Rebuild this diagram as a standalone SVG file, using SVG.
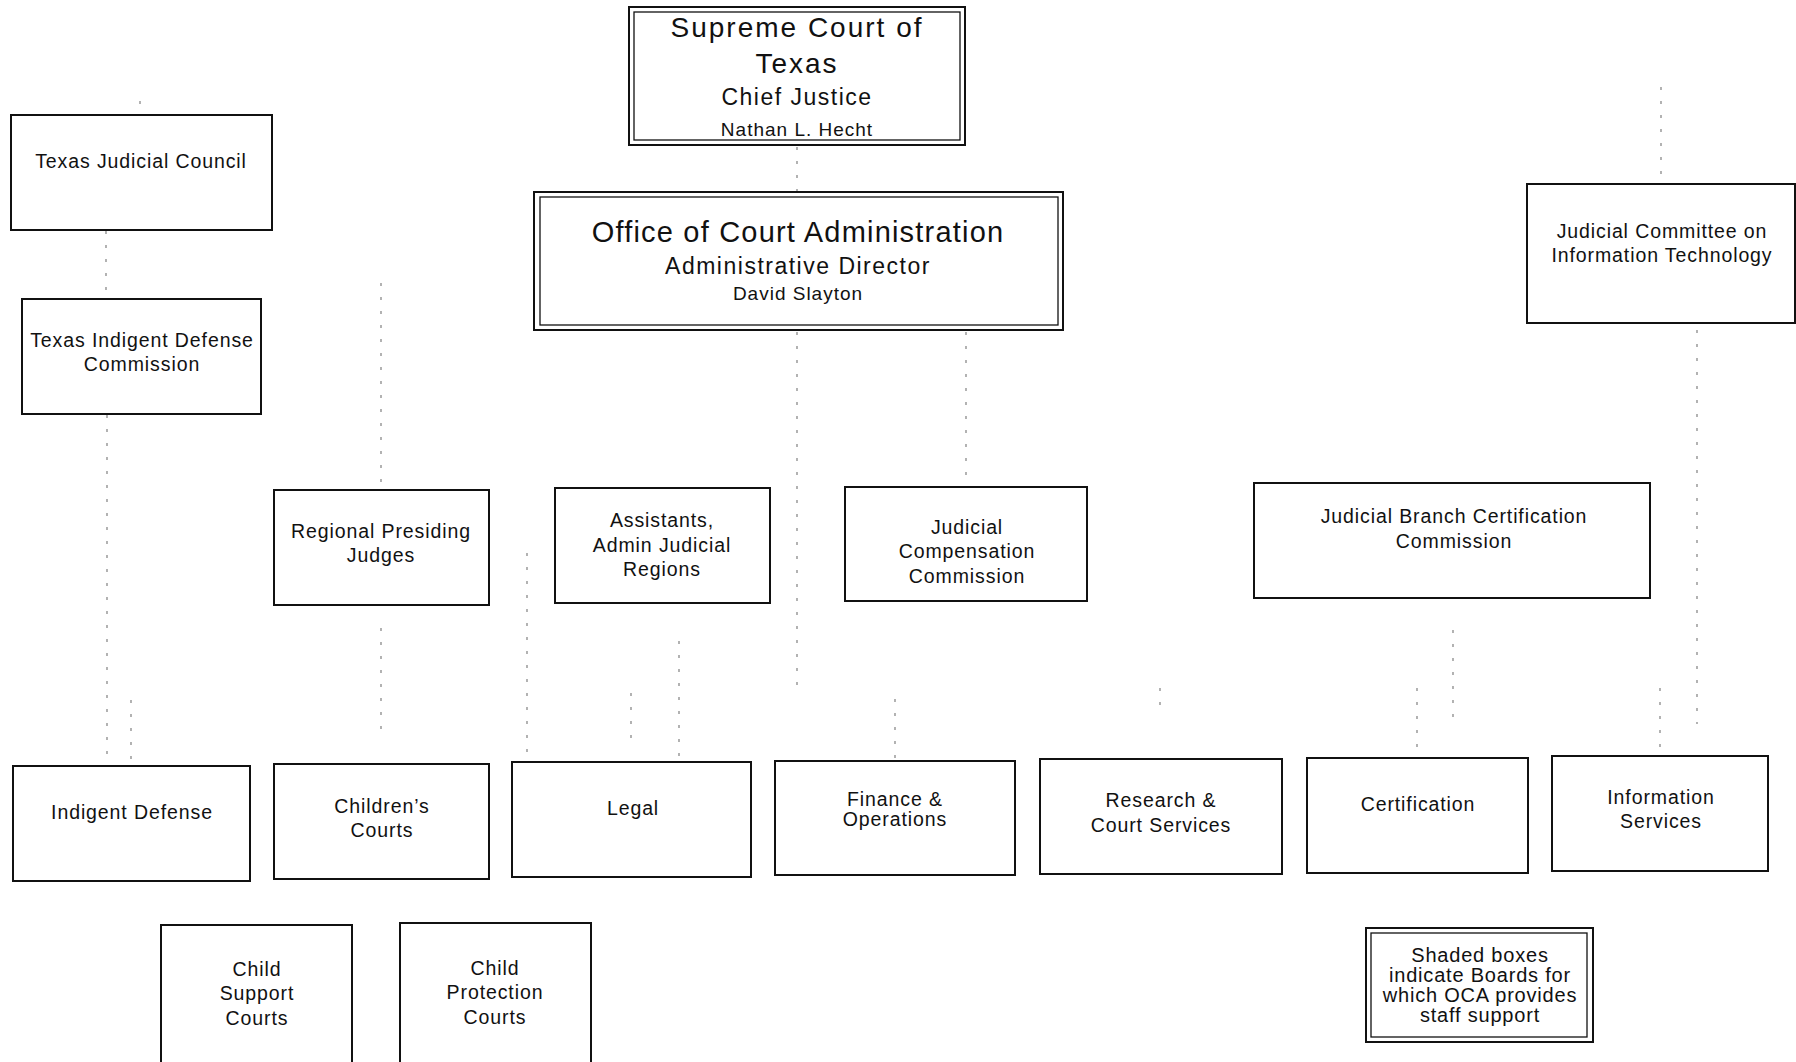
<svg xmlns="http://www.w3.org/2000/svg" width="1796" height="1062" viewBox="0 0 1796 1062">
<style>
  .bx{fill:#fff;stroke:#111;stroke-width:2}
  .in{fill:none;stroke:#111;stroke-width:1.3}
  text{font-family:"Liberation Sans",Arial,sans-serif;fill:#111;text-anchor:middle}
  .t{font-size:19.5px;letter-spacing:0.9px}
  .lg{font-size:20px;letter-spacing:0.8px}
  .cn{stroke:#8a8a8a;stroke-width:1.3;stroke-dasharray:3 11;fill:none}
</style>
<rect width="1796" height="1062" fill="#fff"/>
<g id="connectors">
  <line class="cn" x1="140" y1="101" x2="140" y2="114"/>
  <line class="cn" x1="797" y1="147" x2="797" y2="191"/>
  <line class="cn" x1="106" y1="231" x2="106" y2="298"/>
  <line class="cn" x1="107" y1="415" x2="107" y2="766"/>
  <line class="cn" x1="131" y1="700" x2="131" y2="766"/>
  <line class="cn" x1="381" y1="283" x2="381" y2="490"/>
  <line class="cn" x1="381" y1="628" x2="381" y2="733"/>
  <line class="cn" x1="527" y1="553" x2="527" y2="762"/>
  <line class="cn" x1="679" y1="641" x2="679" y2="762"/>
  <line class="cn" x1="631" y1="693" x2="631" y2="745"/>
  <line class="cn" x1="797" y1="332" x2="797" y2="691"/>
  <line class="cn" x1="966" y1="332" x2="966" y2="487"/>
  <line class="cn" x1="895" y1="699" x2="895" y2="761"/>
  <line class="cn" x1="1160" y1="688" x2="1160" y2="706"/>
  <line class="cn" x1="1417" y1="688" x2="1417" y2="757"/>
  <line class="cn" x1="1453" y1="630" x2="1453" y2="725"/>
  <line class="cn" x1="1660" y1="688" x2="1660" y2="756"/>
  <line class="cn" x1="1697" y1="330" x2="1697" y2="724"/>
  <line class="cn" x1="1661" y1="87" x2="1661" y2="184"/>
</g>
<g id="supreme-court">
  <rect class="bx" x="629" y="7" width="336" height="138"/>
  <rect class="in" x="634" y="12" width="326" height="128"/>
  <text x="797" y="37" style="font-size:28px;letter-spacing:2px">Supreme Court of</text>
  <text x="797" y="73" style="font-size:28px;letter-spacing:2px">Texas</text>
  <text x="797" y="105" style="font-size:23px;letter-spacing:1.5px">Chief Justice</text>
  <text x="797" y="136" style="font-size:19px;letter-spacing:1px">Nathan L. Hecht</text>
</g>
<g id="oca">
  <rect class="bx" x="534" y="192" width="529" height="138"/>
  <rect class="in" x="540" y="197" width="518" height="128"/>
  <text x="798" y="242" style="font-size:29px;letter-spacing:1.2px">Office of Court Administration</text>
  <text x="798" y="274" style="font-size:23px;letter-spacing:1.5px">Administrative Director</text>
  <text x="798" y="300" style="font-size:19px;letter-spacing:1px">David Slayton</text>
</g>
<g id="texas-judicial-council">
  <rect class="bx" x="11" y="115" width="261" height="115"/>
  <text class="t" x="141" y="168">Texas Judicial Council</text>
</g>
<g id="tidc">
  <rect class="bx" x="22" y="299" width="239" height="115"/>
  <text class="t" x="142" y="347">Texas Indigent Defense</text>
  <text class="t" x="142" y="371">Commission</text>
</g>
<g id="jcit">
  <rect class="bx" x="1527" y="184" width="268" height="139"/>
  <text class="t" x="1662" y="238">Judicial Committee on</text>
  <text class="t" x="1662" y="262">Information Technology</text>
</g>
<g id="regional-presiding-judges">
  <rect class="bx" x="274" y="490" width="215" height="115"/>
  <text class="t" x="381" y="538">Regional Presiding</text>
  <text class="t" x="381" y="562">Judges</text>
</g>
<g id="assistants">
  <rect class="bx" x="555" y="488" width="215" height="115"/>
  <text class="t" x="662" y="527">Assistants,</text>
  <text class="t" x="662" y="552">Admin Judicial</text>
  <text class="t" x="662" y="576">Regions</text>
</g>
<g id="judicial-compensation-commission">
  <rect class="bx" x="845" y="487" width="242" height="114"/>
  <text class="t" x="967" y="534">Judicial</text>
  <text class="t" x="967" y="558">Compensation</text>
  <text class="t" x="967" y="583">Commission</text>
</g>
<g id="jbcc">
  <rect class="bx" x="1254" y="483" width="396" height="115"/>
  <text class="t" x="1454" y="523">Judicial Branch Certification</text>
  <text class="t" x="1454" y="548">Commission</text>
</g>
<g id="indigent-defense">
  <rect class="bx" x="13" y="766" width="237" height="115"/>
  <text class="t" x="132" y="819">Indigent Defense</text>
</g>
<g id="childrens-courts">
  <rect class="bx" x="274" y="764" width="215" height="115"/>
  <text class="t" x="382" y="813">Children’s</text>
  <text class="t" x="382" y="837">Courts</text>
</g>
<g id="legal">
  <rect class="bx" x="512" y="762" width="239" height="115"/>
  <text class="t" x="633" y="815">Legal</text>
</g>
<g id="finance-operations">
  <rect class="bx" x="775" y="761" width="240" height="114"/>
  <text class="t" x="895" y="806">Finance &amp;</text>
  <text class="t" x="895" y="826">Operations</text>
</g>
<g id="research-court-services">
  <rect class="bx" x="1040" y="759" width="242" height="115"/>
  <text class="t" x="1161" y="807">Research &amp;</text>
  <text class="t" x="1161" y="832">Court Services</text>
</g>
<g id="certification">
  <rect class="bx" x="1307" y="758" width="221" height="115"/>
  <text class="t" x="1418" y="811">Certification</text>
</g>
<g id="information-services">
  <rect class="bx" x="1552" y="756" width="216" height="115"/>
  <text class="t" x="1661" y="804">Information</text>
  <text class="t" x="1661" y="828">Services</text>
</g>
<g id="child-support-courts">
  <rect class="bx" x="161" y="925" width="191" height="150"/>
  <text class="t" x="257" y="976">Child</text>
  <text class="t" x="257" y="1000">Support</text>
  <text class="t" x="257" y="1025">Courts</text>
</g>
<g id="child-protection-courts">
  <rect class="bx" x="400" y="923" width="191" height="150"/>
  <text class="t" x="495" y="975">Child</text>
  <text class="t" x="495" y="999">Protection</text>
  <text class="t" x="495" y="1024">Courts</text>
</g>
<g id="legend">
  <rect class="bx" x="1366" y="928" width="227" height="114"/>
  <rect class="in" x="1371" y="933" width="216" height="104"/>
  <text class="lg" x="1480" y="962">Shaded boxes</text>
  <text class="lg" x="1480" y="982">indicate Boards for</text>
  <text class="lg" x="1480" y="1002">which OCA provides</text>
  <text class="lg" x="1480" y="1022">staff support</text>
</g>
</svg>
